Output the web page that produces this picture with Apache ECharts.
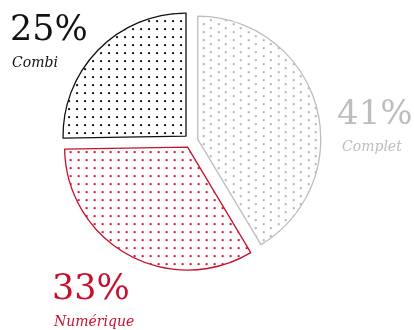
<!DOCTYPE html>
<html>
<head>
<meta charset="utf-8">
<script src="https://cdn.jsdelivr.net/npm/echarts@6/dist/echarts.min.js"></script>
<style>
html,body{margin:0;padding:0;background:#fff;}
#chart{width:414px;height:330px;}
</style>
</head>
<body>
<div id="chart"></div>
<script>
// Data
const categories = ['Complet', 'Numérique', 'Combi'];
const shares = [41, 33, 25];

// Styles
const colors = ['#bdbdbd', '#c8102e', '#111111'];
const dotColors = ['#b4b4b4', '#d0102e', '#1a1a1a'];
const labelPos = [
  {x: 337, y: 97, nx: 342, fs: 34},
  {x: 52, y: 272, nx: 54, fs: 35},
  {x: 10, y: 13, nx: 12, fs: 35}
];

function makePattern(color, staggered) {
  const c = document.createElement('canvas');
  const w = staggered ? 15 : 8, h = 8;
  c.width = w; c.height = h;
  const ctx = c.getContext('2d');
  ctx.fillStyle = color;
  ctx.fillRect(1, 1, 2, 2);
  if (staggered) ctx.fillRect(8, 5, 2, 2);
  return c;
}

const chart = echarts.init(document.getElementById('chart'), null, {renderer: 'canvas'});

const data = categories.map((name, i) => ({
  name: name,
  value: shares[i],
  selected: true,
  itemStyle: {
    color: {image: makePattern(dotColors[i], i === 0), repeat: 'repeat'},
    borderColor: colors[i],
    borderWidth: 1.3
  }
}));

const graphics = [];
categories.forEach((name, i) => {
  const p = labelPos[i];
  graphics.push({
    type: 'text', left: p.x, top: p.y + (35 - p.fs), silent: true,
    style: {text: shares[i] + '%', fill: colors[i], font: p.fs + 'px "DejaVu Serif"'}
  });
  graphics.push({
    type: 'text', left: p.nx, top: p.y + 43, silent: true,
    style: {text: name, fill: colors[i], font: 'italic 14px "DejaVu Serif"'}
  });
});

chart.setOption({
  animation: false,
  graphic: graphics,
  series: [{
    type: 'pie',
    center: [191, 141],
    radius: 123,
    startAngle: 90,
    clockwise: true,
    selectedMode: 'multiple',
    selectedOffset: 7,
    silent: true,
    emphasis: {disabled: true},
    label: {show: false},
    labelLine: {show: false},
    data: data
  }]
});
</script>
</body>
</html>
